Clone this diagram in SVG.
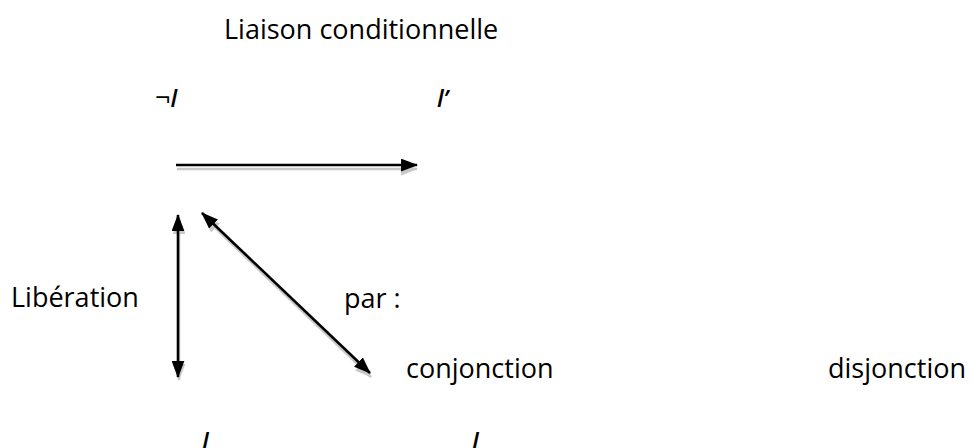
<svg xmlns="http://www.w3.org/2000/svg" width="972" height="448" viewBox="0 0 972 448">
<style>
text{font-family:"Open Sans","Noto Sans",sans-serif;font-size:27px;fill:#000}
.it{font-style:italic;font-weight:600;font-size:24px}
.neg{font-style:normal;font-weight:normal;font-size:27px}
.ln{stroke:#000;stroke-width:2.6;fill:none}
.sh{stroke:#c8c8c8;stroke-width:2.6;fill:none}
</style>
<defs>
<marker id="ah" viewBox="0 0 16 12" refX="15" refY="6" markerWidth="17" markerHeight="13" markerUnits="userSpaceOnUse" orient="auto-start-reverse"><path d="M0,0 L16,6 L0,12 Z" fill="#000"/></marker>
<marker id="ahs" viewBox="0 0 16 12" refX="15" refY="6" markerWidth="17" markerHeight="13" markerUnits="userSpaceOnUse" orient="auto-start-reverse"><path d="M0,0 L16,6 L0,12 Z" fill="#c8c8c8"/></marker>
</defs>
<g id="title"><text x="224" y="39">Liaison conditionnelle</text></g>
<g id="notl"><text class="it" x="155" y="107"><tspan class="neg">¬</tspan>l</text></g>
<g id="lprime"><text class="it" x="437" y="107">l’</text></g>
<g id="liberation"><text x="11" y="307">Libération</text></g>
<g id="par"><text x="344" y="308">par :</text></g>
<g id="conjonction"><text x="406" y="378">conjonction</text></g>
<g id="disjonction"><text x="828" y="378">disjonction</text></g>
<g id="l1"><text class="it" x="202" y="450">l</text></g>
<g id="l2"><text class="it" x="472" y="450">l</text></g>
<g id="connectors">
<line class="sh" x1="177" y1="169" x2="417" y2="169" marker-end="url(#ahs)"/>
<line class="ln" x1="176" y1="165" x2="417" y2="165" marker-end="url(#ah)"/>
<line class="sh" x1="179" y1="218" x2="179" y2="380" marker-start="url(#ahs)" marker-end="url(#ahs)"/>
<line class="ln" x1="178" y1="215" x2="178" y2="377" marker-start="url(#ah)" marker-end="url(#ah)"/>
<line class="sh" x1="204" y1="217" x2="371" y2="377" marker-start="url(#ahs)" marker-end="url(#ahs)"/>
<line class="ln" x1="202" y1="213" x2="370" y2="373" marker-start="url(#ah)" marker-end="url(#ah)"/>
</g>
</svg>
